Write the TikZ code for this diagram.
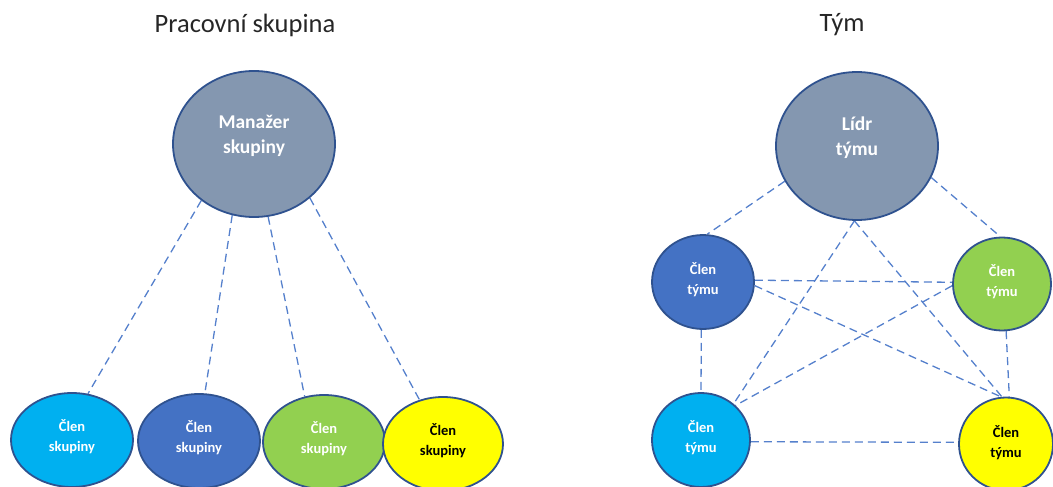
\documentclass[tikz,border=0pt]{standalone}
\usepackage{fontspec}
\setmainfont{Carlito}
\usetikzlibrary{shapes.geometric,backgrounds}
\definecolor{edge}{HTML}{2F528F}
\definecolor{link}{HTML}{5580CC}
\definecolor{mgr}{HTML}{8497B0}
\definecolor{cyanm}{HTML}{00B0F0}
\definecolor{bluem}{HTML}{4472C4}
\definecolor{greenm}{HTML}{92D050}
\definecolor{yellowm}{HTML}{FFFF00}
\definecolor{titlec}{HTML}{262626}
\begin{document}
\begin{tikzpicture}[x=1pt,y=-1pt,
  oval/.style={ellipse,draw=edge,line width=1.8pt,inner sep=0pt,align=center,font=\bfseries,text=white},
  big/.style={oval,minimum width=162pt,minimum height=146pt,text depth=19pt,font=\fontsize{19.5}{25}\selectfont\bfseries},
  small/.style={oval,minimum width=122pt,minimum height=94pt,text depth=8pt,font=\fontsize{14.5}{20}\selectfont\bfseries},
  tsmall/.style={oval,minimum width=100pt,minimum height=93pt,text depth=7pt,font=\fontsize{14.5}{20}\selectfont\bfseries},
  conn/.style={draw=link,line width=1.3pt,dash pattern=on 8pt off 5pt},
  ttl/.style={font=\fontsize{26.5}{30}\selectfont,text=titlec}]
\useasboundingbox (0,0) rectangle (1053,487);
% titles
\node[ttl] (t1) at (245,25) {Pracovní skupina};
\node[ttl] (t2) at (842,25) {Tým};
% left group
\node[big,fill=mgr] (m) at (254,144) {Manažer\\skupiny};
\node[small,fill=cyanm] (s1) at (72,440) {Člen\\skupiny};
\node[small,fill=bluem] (s2) at (199,441) {Člen\\skupiny};
\node[small,fill=greenm] (s3) at (324,442) {Člen\\skupiny};
\node[small,fill=yellowm,text=black,minimum width=120pt] (s4) at (443,444) {Člen\\skupiny};
% right group
\node[big,fill=mgr,minimum height=148pt] (l) at (857,146) {Lídr\\týmu};
\node[tsmall,fill=bluem,minimum width=102pt,minimum height=94pt] (a) at (703,282) {Člen\\týmu};
\node[tsmall,fill=greenm,minimum width=98pt] (b) at (1002,284) {Člen\\týmu};
\node[tsmall,fill=cyanm,minimum width=98pt,minimum height=94pt] (c) at (701,440) {Člen\\týmu};
\node[tsmall,fill=yellowm,text=black,minimum width=94pt,text depth=4pt] (d) at (1006,444) {Člen\\týmu};
% connectors
\begin{scope}[on background layer]
\draw[conn] (m.227) -- (s1.71);
\draw[conn] (m.253) -- (s2.83);
\draw[conn] (m.281) -- (s3.113);
\draw[conn] (m.316) -- (s4.118);
\draw[conn] (l.206) -- (a.85);
\draw[conn] (l.337) -- (b.92);
\draw[conn] (l.268) -- (c.48);
\draw[conn] (l.268) -- (d.95);
\draw[conn] (a.2) -- (b.178);
\draw[conn] (a.356) -- (d.96);
\draw[conn] (b.182) -- (c.45);
\draw[conn] (a.268) -- (c.90);
\draw[conn] (b.275) -- (d.86);
\draw[conn] (c.358) -- (d.178);
\end{scope}
\end{tikzpicture}
\end{document}
